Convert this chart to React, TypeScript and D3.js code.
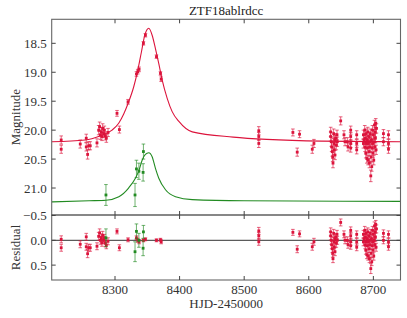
import * as d3 from "d3";

// observations: [HJD-2450000, magnitude, error, residual]
const redObs: [number, number, number, number][] = [
  [8216.7, 20.17, 0.07, -0.02], [8216.7, 20.33, 0.07, 0.15], [8246.2, 20.24, 0.07, 0.08],
  [8255.5, 20.14, 0.07, -0.07], [8255.5, 20.29, 0.07, 0.13], [8257.6, 20.42, 0.08, 0.27],
  [8259.1, 20.27, 0.07, 0.15], [8261.7, 20.27, 0.07, 0.15], [8272.1, 20.22, 0.07, 0.12],
  [8274.7, 20.0, 0.08, -0.08], [8276.2, 19.94, 0.08, -0.15], [8277.3, 20.08, 0.08, 0.0],
  [8278.8, 20.03, 0.08, -0.05], [8279.8, 20.11, 0.07, 0.05], [8280.9, 19.97, 0.08, -0.1],
  [8282.4, 20.06, 0.07, 0.0], [8283.5, 20.0, 0.07, -0.05], [8285.0, 20.1, 0.07, 0.06],
  [8286.6, 20.14, 0.07, 0.1], [8289.2, 20.04, 0.07, 0.02], [8303.1, 19.71, 0.05, -0.18],
  [8306.8, 19.99, 0.06, 0.15], [8320.2, 19.51, 0.04, -0.01], [8333.2, 19.03, 0.04, -0.05],
  [8335.2, 18.99, 0.04, 0.0], [8337.3, 18.95, 0.04, 0.03], [8344.0, 18.5, 0.03, 0.0],
  [8347.1, 18.36, 0.03, -0.02], [8364.2, 18.73, 0.03, 0.0], [8370.4, 19.02, 0.03, -0.01],
  [8371.5, 19.12, 0.04, 0.03],
  [8522.6, 20.01, 0.07, -0.19], [8522.6, 20.11, 0.07, -0.09], [8522.6, 20.23, 0.07, 0.03],
  [8575.4, 20.04, 0.06, -0.16], [8582.1, 20.38, 0.07, 0.18], [8585.7, 20.07, 0.06, -0.13],
  [8605.4, 20.33, 0.07, 0.13], [8608.0, 20.23, 0.07, 0.03],
  [8633.9, 20.03, 0.08, -0.17], [8633.9, 20.11, 0.08, -0.09], [8634.9, 20.2, 0.08, 0.0],
  [8635.4, 20.29, 0.08, 0.09], [8636.4, 20.37, 0.08, 0.17], [8637.0, 20.46, 0.08, 0.26],
  [8637.5, 20.57, 0.08, 0.37], [8638.5, 20.06, 0.08, -0.14], [8639.0, 20.23, 0.08, 0.03],
  [8639.5, 20.34, 0.08, 0.14], [8640.1, 20.17, 0.08, -0.03], [8640.6, 20.43, 0.08, 0.23],
  [8641.6, 20.14, 0.08, -0.06], [8642.6, 20.26, 0.08, 0.06], [8643.7, 20.08, 0.08, -0.12],
  [8644.2, 20.2, 0.08, 0.0], [8649.4, 19.84, 0.07, -0.36], [8654.5, 20.08, 0.07, -0.12],
  [8656.1, 20.2, 0.07, 0.0], [8659.7, 20.2, 0.07, 0.0], [8660.8, 20.29, 0.07, 0.09],
  [8664.9, 20.0, 0.07, -0.2], [8664.9, 20.11, 0.07, -0.09], [8664.9, 20.23, 0.07, 0.03],
  [8664.9, 20.31, 0.07, 0.11], [8674.2, 20.08, 0.07, -0.12], [8674.2, 20.23, 0.07, 0.03],
  [8674.2, 20.34, 0.07, 0.14],
  [8684.6, 20.08, 0.08, -0.12], [8684.6, 20.23, 0.08, 0.03], [8685.6, 20.17, 0.08, -0.03],
  [8686.6, 20.0, 0.08, -0.2], [8687.2, 20.29, 0.08, 0.09], [8687.7, 20.14, 0.08, -0.06],
  [8688.2, 20.4, 0.08, 0.2], [8688.7, 20.06, 0.08, -0.14], [8689.2, 20.23, 0.08, 0.03],
  [8689.8, 20.49, 0.08, 0.29], [8690.3, 20.17, 0.08, -0.03], [8690.8, 20.31, 0.08, 0.11],
  [8691.3, 20.03, 0.08, -0.17], [8691.8, 20.52, 0.08, 0.32], [8692.3, 20.23, 0.08, 0.03],
  [8692.9, 20.11, 0.08, -0.09], [8693.4, 20.37, 0.08, 0.17], [8693.9, 20.57, 0.08, 0.37],
  [8694.4, 20.2, 0.08, 0.0], [8694.9, 20.29, 0.08, 0.09], [8695.4, 20.06, 0.08, -0.14],
  [8696.0, 20.79, 0.1, 0.57], [8696.5, 20.46, 0.08, 0.26], [8697.0, 20.17, 0.08, -0.03],
  [8697.5, 20.63, 0.08, 0.43], [8698.0, 20.31, 0.08, 0.11], [8698.6, 20.0, 0.08, -0.2],
  [8699.1, 20.23, 0.08, 0.03], [8699.6, 20.4, 0.08, 0.2], [8700.1, 20.08, 0.08, -0.12],
  [8700.6, 20.52, 0.08, 0.32], [8701.1, 20.2, 0.08, 0.0], [8701.7, 19.91, 0.08, -0.29],
  [8702.2, 20.29, 0.08, 0.09], [8702.7, 20.03, 0.08, -0.17], [8703.2, 20.14, 0.08, -0.06],
  [8703.7, 19.88, 0.08, -0.32], [8704.2, 20.34, 0.08, 0.14], [8704.8, 19.97, 0.08, -0.23],
  [8715.6, 20.06, 0.07, -0.14], [8715.6, 20.2, 0.07, 0.0],
  [8723.4, 20.08, 0.07, -0.12], [8723.4, 20.23, 0.07, 0.03], [8723.4, 20.33, 0.07, 0.13],
];

const greenObs: [number, number, number, number][] = [
  [8286.0, 21.12, 0.18, -0.05], [8331.0, 21.12, 0.2, 0.23], [8333.2, 20.67, 0.15, -0.18],
  [8337.0, 20.71, 0.14, 0.0], [8343.5, 20.73, 0.15, 0.16], [8344.0, 20.37, 0.13, -0.17],
];

// fitted model: [HJD-2450000, magnitude]
const redModel: [number, number][] = [
  [8202, 20.2], [8254, 20.17], [8276.7, 20.1], [8295.4, 20.0], [8305.7, 19.88],
  [8313.5, 19.72], [8320.2, 19.54], [8329, 19.25], [8334.2, 19.02], [8340.9, 18.65],
  [8346.1, 18.36], [8352.3, 18.24], [8357.5, 18.36], [8362.6, 18.59], [8367.8, 18.85],
  [8373, 19.13], [8380.8, 19.45], [8388.5, 19.68], [8398.9, 19.85], [8419.6, 20.03],
  [8483, 20.12], [8535, 20.16], [8620, 20.19], [8742, 20.2],
];

const greenModel: [number, number][] = [
  [8202, 21.24], [8260, 21.22], [8286, 21.21], [8306, 21.15], [8321, 21.0],
  [8331.6, 20.83], [8337, 20.7], [8342, 20.52], [8347, 20.42], [8352.3, 20.39],
  [8357.5, 20.46], [8362.6, 20.66], [8367.8, 20.83], [8378.2, 21.03], [8393.7, 21.15],
  [8419.6, 21.2], [8500, 21.22], [8742, 21.23],
];

const magTicks = [18.5, 19.0, 19.5, 20.0, 20.5, 21.0];
const resTicks = [-0.5, 0, 0.5];
const timeTicks = [8300, 8400, 8500, 8600, 8700];

const RED = "#dc143c";
const GREEN = "#228b22";
const FONT = "Liberation Serif";

const W = 407, H = 318;
const L = 51.7, R = 400.5, T = 19.3, MID = 215, B = 280;
const TICK = 4;

export default function App() {
  const x = d3.scaleLinear().domain([8202, 8742]).range([L, R]);
  const yMag = d3.scaleLinear().domain([18.085, 21.466]).range([T, MID]);
  const yRes = d3.scaleLinear().domain([-0.51, 0.8]).range([MID, B]);
  const fmt = d3.format(".1f");

  const model = d3.line<[number, number]>()
    .x(d => x(d[0]))
    .y(d => yMag(d[1]))
    .curve(d3.curveMonotoneX);

  const errPoints = (obs: [number, number, number, number][], color: string, resid: boolean) =>
    obs.map((d, i) => {
      const cx = x(d[0]);
      const y = resid ? yRes : yMag;
      const v = resid ? d[3] : d[1];
      const y0 = y(v - d[2]), y1 = y(v + d[2]), cy = y(v);
      return (
        <g key={i}>
          <g stroke={color} strokeOpacity={0.65} strokeWidth={1}>
            <line x1={cx} x2={cx} y1={y0} y2={y1} />
            <line x1={cx - 1.8} x2={cx + 1.8} y1={y0} y2={y0} />
            <line x1={cx - 1.8} x2={cx + 1.8} y1={y1} y2={y1} />
          </g>
          <rect x={cx - 1.4} y={cy - 1.4} width={2.8} height={2.8} fill={color} />
        </g>
      );
    });

  const txt = { fontFamily: FONT, fontSize: 13 };

  return (
    <svg width={W} height={H} style={{ position: "absolute", left: 0, top: 0, background: "#fff" }}>
      <defs>
        <clipPath id="clipMain"><rect x={L} y={T} width={R - L} height={MID - T} /></clipPath>
        <clipPath id="clipRes"><rect x={L} y={MID} width={R - L} height={B - MID} /></clipPath>
      </defs>

      <text x={(L + R) / 2} y={15} textAnchor="middle" style={txt} fill="#222">ZTF18ablrdcc</text>

      {/* model curves */}
      <g clipPath="url(#clipMain)" fill="none" strokeWidth={1.1}>
        <path d={model(redModel) ?? ""} stroke={RED} />
        <path d={model(greenModel) ?? ""} stroke={GREEN} />
      </g>

      <g clipPath="url(#clipMain)">
        {errPoints(redObs, RED, false)}
        {errPoints(greenObs, GREEN, false)}
      </g>

      {/* residual panel */}
      <line x1={L} x2={R} y1={yRes(0)} y2={yRes(0)} stroke="#333" strokeWidth={1} />
      <g clipPath="url(#clipRes)">
        {errPoints(redObs, RED, true)}
        {errPoints(greenObs, GREEN, true)}
      </g>

      {/* frames */}
      <rect x={L} y={T} width={R - L} height={B - T} fill="none" stroke="#666" strokeWidth={1.1} />
      <line x1={L} x2={R} y1={MID} y2={MID} stroke="#111" strokeWidth={1.2} />

      {/* ticks */}
      <g stroke="#444" strokeWidth={1}>
        {timeTicks.map(t => (
          <g key={t}>
            <line x1={x(t)} x2={x(t)} y1={T} y2={T + TICK} />
            <line x1={x(t)} x2={x(t)} y1={MID - TICK} y2={MID + TICK} />
            <line x1={x(t)} x2={x(t)} y1={B - TICK} y2={B} />
          </g>
        ))}
        {magTicks.map(m => (
          <g key={m}>
            <line x1={L} x2={L + TICK} y1={yMag(m)} y2={yMag(m)} />
            <line x1={R - TICK} x2={R} y1={yMag(m)} y2={yMag(m)} />
          </g>
        ))}
        {resTicks.map(r => (
          <g key={r}>
            <line x1={L} x2={L + TICK} y1={yRes(r)} y2={yRes(r)} />
            <line x1={R - TICK} x2={R} y1={yRes(r)} y2={yRes(r)} />
          </g>
        ))}
      </g>

      {/* tick labels */}
      <g fill="#333">
        {magTicks.map(m => (
          <text key={m} x={L - 5} y={yMag(m)} textAnchor="end" dominantBaseline="central" style={txt}>{fmt(m)}</text>
        ))}
        {resTicks.map(r => (
          <text key={r} x={L - 5} y={yRes(r)} textAnchor="end" dominantBaseline="central" style={txt}>{fmt(r)}</text>
        ))}
        {timeTicks.map(t => (
          <text key={t} x={x(t)} y={294} textAnchor="middle" style={txt}>{t}</text>
        ))}
      </g>

      {/* axis labels */}
      <g fill="#333" textAnchor="middle">
        <text transform={`translate(15,${(T + MID) / 2}) rotate(-90)`} dominantBaseline="central" style={txt}>Magnitude</text>
        <text transform={`translate(15,${(MID + B) / 2}) rotate(-90)`} dominantBaseline="central" style={txt}>Residual</text>
        <text x={(L + R) / 2} y={308} style={txt}>HJD-2450000</text>
      </g>
    </svg>
  );
}
